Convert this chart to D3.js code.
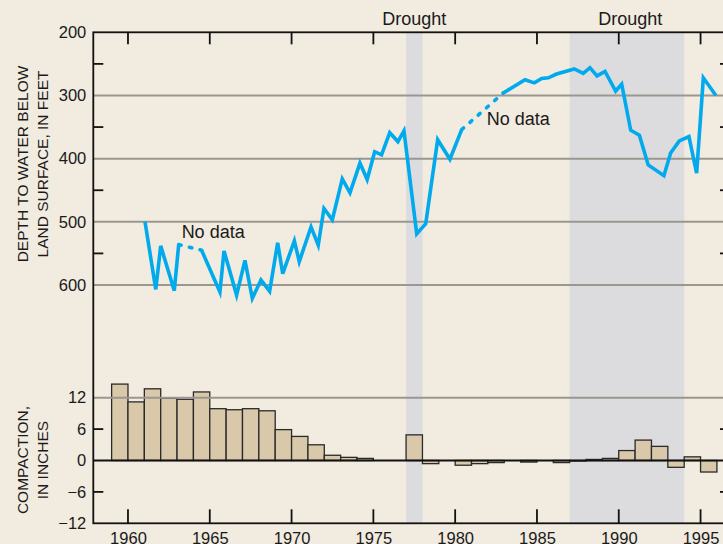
<!DOCTYPE html>
<html>
<head>
<meta charset="utf-8">
<script src="https://cdn.jsdelivr.net/npm/d3@7"></script>
<style>
    body { margin: 0; background: #f1ebe0; }
    svg { display: block; font-family: "Liberation Sans", Arial, Helvetica, sans-serif; }
</style>
</head>
<body>
<div id="dataviz"></div>
<script>
// water level, roughly two readings a year (decimal year, feet below land surface)
const levelYears = [1961.04, 1961.7, 1962.0, 1962.83, 1963.1,
    1964.5, 1965.62, 1965.87, 1966.64, 1967.15, 1967.6, 1968.13, 1968.66, 1969.15, 1969.46,
    1970.17, 1970.47, 1971.19, 1971.63, 1971.98, 1972.49, 1973.1, 1973.57, 1974.18, 1974.62,
    1975.08, 1975.5, 1976.0, 1976.5, 1976.87, 1977.65, 1978.2, 1978.93, 1979.68, 1980.4,
    1982.94, 1984.27, 1984.84, 1985.29, 1985.7, 1986.2, 1987.28, 1987.83, 1988.24, 1988.67,
    1989.16, 1989.81, 1990.18, 1990.73, 1991.26, 1991.8, 1992.76, 1993.17, 1993.7, 1994.29,
    1994.76, 1995.17, 1995.94];
const levelDepths = [500, 607, 538, 609, 536,
    545, 611, 546, 616, 561, 621, 592, 610, 533, 582,
    530, 563, 508, 537, 479, 497, 432, 454, 407, 433,
    389, 394, 359, 373, 356, 519, 503, 370, 401, 354,
    296, 275, 280, 273, 272, 266, 258, 265, 256, 269,
    262, 293, 282, 355, 363, 410, 427, 391, 372, 365,
    423, 272, 300];
// readings after which there is a "No data" gap
const noDataAfter = [1963.1, 1980.4];
// label anchors (year, depth) = left end of the text baseline
const noDataLabelAt = [[1963.28, 525], [1981.93, 346]];

// yearly compaction, inches
const compactionYears = [1959, 1960, 1961, 1962, 1963, 1964, 1965, 1966, 1967, 1968, 1969,
    1970, 1971, 1972, 1973, 1974, 1975, 1976, 1977, 1978, 1979, 1980, 1981, 1982, 1983,
    1984, 1985, 1986, 1987, 1988, 1989, 1990, 1991, 1992, 1993, 1994, 1995];
const compactionValues = [14.6, 11.2, 13.7, 11.9, 11.7, 13.1, 9.9, 9.7, 9.9, 9.5, 5.9,
    4.6, 3.0, 1.0, 0.6, 0.4, null, null, 4.9, -0.6, null, -0.9, -0.6, -0.4, null,
    -0.3, null, -0.4, -0.1, 0.2, 0.4, 1.9, 3.9, 2.7, -1.3, 0.7, -2.2];

const droughts = [[1977, 1978], [1987, 1994]];
const droughtLabelYears = [1977.5, 1990.7];

const yearTicks = [1960, 1965, 1970, 1975, 1980, 1985, 1990, 1995];
const depthTicks = [200, 300, 400, 500, 600];
const depthMinorTicks = [250, 350, 450, 550];
const compactionTicks = [-12, -6, 0, 6, 12];
const compactionMinorTicks = [-6, 6];

(function () {
    'use strict'

    let W = 723, H = 544;
    let left = 93.3, right = 730;
    let top = 32.3, bottom = 523.3;

    let svg = d3.select("#dataviz").append("svg").attr("width", W).attr("height", H)

    svg.append('rect').attr('width', W).attr('height', H).attr('fill', '#f1ebe0')

    let x = d3.scaleLinear().domain([1957.88, 1996.8]).range([left, right])
    let yDepth = d3.scaleLinear().domain([200, 600]).range([top, 285])
    let yComp = d3.scaleLinear().domain([-12, 12]).range([bottom, 397.7])

    // drought shading over both panels
    svg.selectAll('rect.drought').data(droughts).enter().append('rect')
        .attr('x', d => x(d[0]))
        .attr('width', d => x(d[1]) - x(d[0]))
        .attr('y', top)
        .attr('height', bottom - top)
        .attr('fill', '#dcdcdf')

    svg.selectAll('text.drought').data(droughtLabelYears).enter().append('text')
        .attr('x', d => x(d))
        .attr('y', 25)
        .attr('text-anchor', 'middle')
        .attr('font-size', 18)
        .attr('fill', '#1a1a1a')
        .text('Drought')

    // compaction bars
    let bars = compactionYears.map((yr, i) => ({ yr: yr, v: compactionValues[i] })).filter(d => d.v !== null)
    svg.selectAll('rect.bar').data(bars).enter().append('rect')
        .attr('x', d => x(d.yr))
        .attr('width', d => x(d.yr + 1) - x(d.yr))
        .attr('y', d => yComp(Math.max(0, d.v)))
        .attr('height', d => Math.abs(yComp(d.v) - yComp(0)))
        .attr('fill', '#d9c9aa')
        .attr('stroke', '#2a2a2a')
        .attr('stroke-width', 1.3)

    // gray gridlines
    let grid = svg.append('g').attr('stroke', '#9b978f').attr('stroke-width', 2)
    grid.selectAll('line.d').data(depthTicks.slice(1)).enter().append('line')
        .attr('x1', left).attr('x2', right)
        .attr('y1', d => yDepth(d)).attr('y2', d => yDepth(d))
    grid.append('line')
        .attr('x1', left).attr('x2', right)
        .attr('y1', yComp(12)).attr('y2', yComp(12))

    // zero line
    svg.append('line')
        .attr('x1', left).attr('x2', right)
        .attr('y1', yComp(0)).attr('y2', yComp(0))
        .attr('stroke', '#111').attr('stroke-width', 1.8)

    // water level: split at the no-data gaps
    let pts = levelYears.map((yr, i) => ({ x: yr, y: levelDepths[i] }))
    let segs = [[]], gaps = []
    pts.forEach((p, i) => {
        segs[segs.length - 1].push(p)
        if (noDataAfter.indexOf(p.x) >= 0 && i < pts.length - 1) {
            gaps.push([p, pts[i + 1]])
            segs.push([])
        }
    })

    let line = d3.line().x(d => x(d.x)).y(d => yDepth(d.y))

    svg.selectAll('path.level').data(segs).enter().append('path')
        .attr('d', d => line(d))
        .attr('fill', 'none')
        .attr('stroke', '#00aaec')
        .attr('stroke-width', 3.6)
        .attr('stroke-linejoin', 'miter')

    svg.selectAll('path.gap').data(gaps).enter().append('path')
        .attr('d', d => line(d))
        .attr('fill', 'none')
        .attr('stroke', '#00aaec')
        .attr('stroke-width', 3.6)
        .attr('stroke-linecap', 'round')
        .attr('stroke-dasharray', '2.5,8.5')

    svg.selectAll('text.nodata').data(noDataLabelAt).enter().append('text')
        .attr('x', d => x(d[0]))
        .attr('y', d => yDepth(d[1]))
        .attr('font-size', 18)
        .attr('fill', '#1a1a1a')
        .text('No data')

    // frame
    let frame = svg.append('g').attr('stroke', '#111').attr('stroke-width', 1.8).attr('fill', 'none')
    frame.append('rect')
        .attr('x', left).attr('y', top)
        .attr('width', right - left).attr('height', bottom - top)

    // tick marks
    let ticks = svg.append('g').attr('stroke', '#111').attr('stroke-width', 1.8)
    ticks.selectAll('line.t').data(yearTicks).enter().append('line')
        .attr('x1', d => x(d)).attr('x2', d => x(d))
        .attr('y1', top).attr('y2', top + 12)
    ticks.selectAll('line.b').data(yearTicks).enter().append('line')
        .attr('x1', d => x(d)).attr('x2', d => x(d))
        .attr('y1', bottom).attr('y2', bottom - 14)

    let sideTicks = depthMinorTicks.map(yDepth).concat(compactionMinorTicks.map(yComp))
    ticks.selectAll('line.l').data(sideTicks).enter().append('line')
        .attr('x1', left).attr('x2', left + 10)
        .attr('y1', d => d).attr('y2', d => d)
    ticks.selectAll('line.r').data(sideTicks).enter().append('line')
        .attr('x1', right).attr('x2', right - 10)
        .attr('y1', d => d).attr('y2', d => d)

    // tick labels through d3 axes
    function styleAxis(g) {
        g.select('.domain').remove()
        g.selectAll('.tick line').remove()
        g.selectAll('text').attr('font-size', 16.5).attr('fill', '#1a1a1a')
            .attr('font-family', '"Liberation Sans", Arial, Helvetica, sans-serif')
    }

    svg.append('g').attr('transform', `translate(${left},0)`)
        .call(d3.axisLeft(yDepth).tickValues(depthTicks).tickSize(0).tickPadding(7))
        .call(styleAxis)

    svg.append('g').attr('transform', `translate(${left},0)`)
        .call(d3.axisLeft(yComp).tickValues(compactionTicks).tickSize(0).tickPadding(7)
            .tickFormat(d => d < 0 ? '\u2212' + Math.abs(d) : d))
        .call(styleAxis)

    svg.append('g').attr('transform', `translate(0,${bottom})`)
        .call(d3.axisBottom(x).tickValues(yearTicks).tickSize(0).tickPadding(9).tickFormat(d3.format('d')))
        .call(styleAxis)

    // axis titles
    let t1 = svg.append('text').attr('transform', 'translate(28,164) rotate(-90)')
        .attr('text-anchor', 'middle').attr('font-size', 15.5).attr('fill', '#1a1a1a')
    t1.append('tspan').attr('x', 0).attr('dy', 0).text('DEPTH TO WATER BELOW')
    t1.append('tspan').attr('x', 0).attr('dy', 20).text('LAND SURFACE, IN FEET')

    let t2 = svg.append('text').attr('transform', 'translate(28,460) rotate(-90)')
        .attr('text-anchor', 'middle').attr('font-size', 15.5).attr('fill', '#1a1a1a')
    t2.append('tspan').attr('x', 0).attr('dy', 0).text('COMPACTION,')
    t2.append('tspan').attr('x', 0).attr('dy', 20).text('IN INCHES')

}).call({});
</script>
</body>
</html>
